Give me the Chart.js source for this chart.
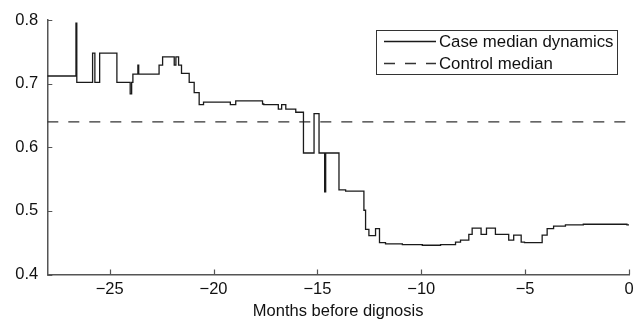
<!DOCTYPE html>
<html><head><meta charset="utf-8">
<script src="https://cdn.jsdelivr.net/npm/chart.js@4.4.0/dist/chart.umd.min.js"></script>
<style>html,body{margin:0;padding:0;background:#fff;}#wrap{width:640px;height:321px;}</style>
</head><body><div id="wrap"><canvas id="c" width="640" height="321"></canvas></div>
<script>
// ---- data ----
const caseMonths = [-28, -26.62, -26.58, -25.82, -25.71, -25.48, -24.65, -24.01, -23.94, -23.88, -23.64, -23.60,
  -22.62, -22.45, -21.89, -21.81, -21.68, -21.54, -21.17, -20.93, -20.69, -20.48, -19.19, -18.93, -17.64, -17.58,
  -16.88, -16.72, -16.52, -16.04, -15.67, -15.16, -14.92, -14.65, -14.60, -13.96, -13.64, -12.76, -12.68, -12.52,
  -12.20, -12.01, -11.72, -10.91, -9.95, -9.07, -8.35, -8.11, -7.71, -7.55, -7.12, -6.86, -6.43, -5.79, -5.55,
  -5.19, -5.03, -4.18, -3.94, -3.63, -3.06, -2.20, -0.10, 0];
const caseValues = [0.712, 0.795, 0.702, 0.748, 0.702, 0.748, 0.702, 0.684, 0.702, 0.715, 0.729, 0.715,
  0.729, 0.742, 0.729, 0.742, 0.729, 0.716, 0.702, 0.686, 0.667, 0.671, 0.667, 0.673, 0.668, 0.667,
  0.660, 0.667, 0.660, 0.655, 0.591, 0.653, 0.591, 0.530, 0.591, 0.533, 0.531, 0.501, 0.471, 0.461,
  0.472, 0.450, 0.448, 0.447, 0.446, 0.447, 0.451, 0.454, 0.463, 0.473, 0.463, 0.473, 0.463, 0.454, 0.462,
  0.451, 0.450, 0.462, 0.472, 0.476, 0.478, 0.479, 0.478, 0.478];
const controlMonths = [-28, 0];
const controlValues = [0.64, 0.64];
const xTickValues = [-25, -20, -15, -10, -5, 0];
const yTickValues = [0.4, 0.5, 0.6, 0.7, 0.8];
const seriesLabels = ['Case median dynamics', 'Control median'];
const xAxisTitle = 'Months before dignosis';

const FONT = 'Liberation Sans, Arial, Helvetica, sans-serif';
const AXIS = '#555';

const insideTicks = {
  id: 'insideTicks',
  afterDatasetsDraw(chart) {
    const {ctx, scales: {x, y}} = chart;
    ctx.save();
    ctx.strokeStyle = AXIS; ctx.lineWidth = 1.2;
    ctx.beginPath();
    xTickValues.forEach(v => { const px = Math.round(x.getPixelForValue(v)) + 0.5;
      ctx.moveTo(px, y.bottom); ctx.lineTo(px, y.bottom - 5); });
    yTickValues.forEach(v => { const py = Math.round(y.getPixelForValue(v)) + 0.5;
      ctx.moveTo(x.left, py); ctx.lineTo(x.left + 5, py); });
    ctx.stroke();
    ctx.restore();
  }
};

const boxLegend = {
  id: 'boxLegend',
  afterDraw(chart) {
    const {ctx, chartArea} = chart;
    const w = 241, h = 44;
    const bx = chartArea.right - 12 - w, by = chartArea.top + 10;
    ctx.save();
    ctx.fillStyle = '#fff';
    ctx.fillRect(bx, by, w, h);
    ctx.strokeStyle = '#333'; ctx.lineWidth = 1;
    ctx.strokeRect(bx + 0.5, by + 0.5, w, h);
    const rows = [by + 11, by + 33];
    chart.data.datasets.forEach((ds, i) => {
      ctx.beginPath();
      ctx.strokeStyle = ds.borderColor; ctx.lineWidth = ds.borderWidth;
      ctx.setLineDash(ds.borderDash || []);
      ctx.moveTo(bx + 8, rows[i] + 0.5); ctx.lineTo(bx + 60, rows[i] + 0.5);
      ctx.stroke();
      ctx.setLineDash([]);
      ctx.fillStyle = '#111';
      ctx.font = '16.8px ' + FONT;
      ctx.textBaseline = 'middle';
      ctx.fillText(ds.label, bx + 63, rows[i] + 1);
    });
    ctx.restore();
  }
};

new Chart(document.getElementById('c'), {
  type: 'line',
  data: {
    datasets: [
      { label: seriesLabels[0], data: caseMonths.map((m, i) => ({x: m, y: caseValues[i]})),
        stepped: 'before', borderColor: '#1a1a1a', borderWidth: 1.3, pointRadius: 0, fill: false },
      { label: seriesLabels[1], data: controlMonths.map((m, i) => ({x: m, y: controlValues[i]})),
        borderColor: '#333', borderWidth: 1.3, borderDash: [11, 10], pointRadius: 0, fill: false }
    ]
  },
  options: {
    responsive: false, animation: false, devicePixelRatio: 1,
    layout: { padding: { top: 20, right: 11, left: 0, bottom: 0 } },
    plugins: { legend: { display: false }, tooltip: { enabled: false } },
    scales: {
      x: {
        type: 'linear', min: -28, max: 0, position: 'bottom',
        grid: { display: false, drawTicks: false },
        border: { display: true, color: AXIS, width: 1.5 },
        afterBuildTicks: s => { s.ticks = xTickValues.map(v => ({value: v})); },
        ticks: { font: { family: FONT, size: 16.5 }, color: '#111', padding: 5, maxRotation: 0, autoSkip: false,
          callback: v => v < 0 ? '\u2212' + Math.abs(v) : String(v) },
        title: { display: true, text: xAxisTitle, font: { family: FONT, size: 16.5 }, color: '#111', padding: { top: 2, bottom: 0 } },
        afterFit: s => { s.height = 46.5; }
      },
      y: {
        type: 'linear', min: 0.4, max: 0.8,
        grid: { display: false, drawTicks: false },
        border: { display: true, color: AXIS, width: 1.5 },
        afterBuildTicks: s => { s.ticks = yTickValues.map(v => ({value: v})); },
        ticks: { font: { family: FONT, size: 16.5 }, color: '#111', padding: 9,
          callback: v => Number(v).toFixed(1) },
        afterFit: s => { s.width = 47.3; }
      }
    }
  },
  plugins: [insideTicks, boxLegend]
});
</script></body></html>
